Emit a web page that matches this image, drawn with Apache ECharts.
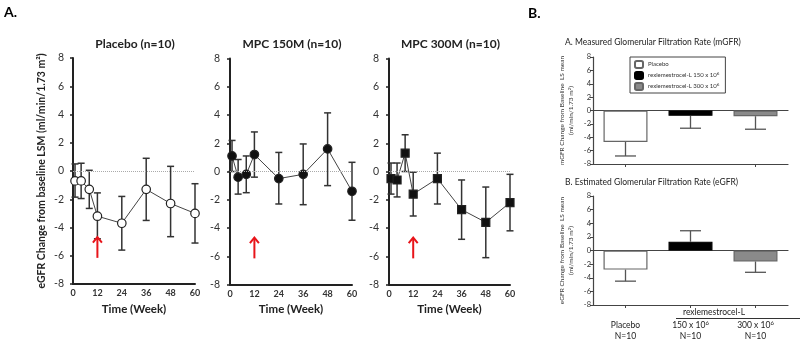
<!DOCTYPE html>
<html>
<head>
<meta charset="utf-8">
<script src="https://cdn.jsdelivr.net/npm/echarts@6/dist/echarts.min.js"></script>
<style>
  html, body { margin: 0; padding: 0; background: #fff; }
  #chart { width: 800px; height: 344px; }
</style>
</head>
<body>
<div id="chart"></div>
<script>
// ---- Panel A: eGFR change over time, three treatment groups ----
const weeks = [1, 4, 8, 12, 24, 36, 48, 60];
const weekTicks = [0, 12, 24, 36, 48, 60];

const placeboMean  = [-0.7, -0.7, -1.3, -3.2, -3.7, -1.3, -2.3, -3.0];
const placeboUpper = [0.5, 0.55, 0.05, -1.55, -1.8, 0.9, 0.33, -0.9];
const placeboLower = [-1.85, -1.95, -2.65, -4.8, -5.6, -3.5, -4.65, -5.1];

const mpc150Mean  = [1.1, -0.4, -0.2, 1.2, -0.5, -0.2, 1.6, -1.4];
const mpc150Upper = [2.2, 0.85, 1.1, 2.8, 1.35, 1.95, 4.15, 0.65];
const mpc150Lower = [0.0, -1.6, -1.5, -0.4, -2.3, -2.35, -1.0, -3.45];

const mpc300Mean  = [-0.5, -0.6, 1.3, -1.6, -0.5, -2.7, -3.6, -2.2];
const mpc300Upper = [0.6, 0.6, 2.6, -0.05, 1.3, -0.6, -1.1, -0.2];
const mpc300Lower = [-1.6, -1.8, 0.0, -3.15, -2.3, -4.8, -6.1, -4.2];

// dosing marker: week, arrow base, arrow tip
const doseWeek = 12;
const arrowBase = -6.15;
const arrowTip = -4.65;

// ---- Panel B: LS mean change from baseline at end of study ----
const groups = ['Placebo', 'rexlemestrocel-L 150 x 10^6', 'rexlemestrocel-L 300 x 10^6'];
const groupLabels = ['Placebo', '150 x 10^6', '300 x 10^6'];
const groupN = ['N=10', 'N=10', 'N=10'];
const mgfrMean = [-4.7, -0.8, -0.85];
const mgfrErrEnd = [-6.8, -2.65, -2.8];
const egfrMean = [-2.8, 1.3, -1.6];
const egfrErrEnd = [-4.5, 2.9, -3.2];

const FONT = 'Lato, "Open Sans", sans-serif';
const DARK = '#222';

// turn "10^6" into rich-text with a raised exponent
function supText(s, base) {
  return s.replace(/\^(\d+)/, '{' + 'sup|$1}').replace(/^([^{]+)/, '{' + base + '|$1}');
}

const chart = echarts.init(document.getElementById('chart'), null, { renderer: 'canvas' });

const lineGrids = [
  { left: 73, top: 58, width: 122, height: 226 },
  { left: 230, top: 58.5, width: 122, height: 226 },
  { left: 389, top: 58.5, width: 121, height: 226 }
];
const barGrids = [
  { left: 593, top: 57, width: 195, height: 107 },
  { left: 593, top: 196, width: 195, height: 109 }
];

const lineGroups = [
  { title: 'Placebo (n=10)', mean: placeboMean, up: placeboUpper, lo: placeboLower, symbol: 'circle', fill: '#fff', yOffset: 6 },
  { title: 'MPC 150M (n=10)', mean: mpc150Mean, up: mpc150Upper, lo: mpc150Lower, symbol: 'circle', fill: '#111', yOffset: 7 },
  { title: 'MPC 300M (n=10)', mean: mpc300Mean, up: mpc300Upper, lo: mpc300Lower, symbol: 'rect', fill: '#111', yOffset: 7 }
];

const grid = [];
const xAxis = [];
const yAxis = [];
const series = [];
const title = [];

// --- line panels ---
lineGroups.forEach((g, i) => {
  grid.push(lineGrids[i]);
  xAxis.push({
    type: 'value', gridIndex: i, min: 0, max: 60, interval: 12,
    axisLine: { show: true, onZero: false, lineStyle: { color: DARK, width: 2 } },
    axisTick: { show: false },
    splitLine: { show: false },
    axisLabel: { fontFamily: FONT, fontSize: 9, fontWeight: 'bold', color: '#333', margin: 5,
                 customValues: weekTicks },
    name: 'Time (Week)', nameLocation: 'middle', nameGap: 15,
    nameTextStyle: { fontFamily: FONT, fontSize: 11.5, fontWeight: 'bold', color: DARK }
  });
  const ya = {
    type: 'value', gridIndex: i, min: -8, max: 8, interval: 2, offset: g.yOffset,
    axisLine: { show: true, lineStyle: { color: DARK, width: 2 } },
    axisTick: { show: true, length: 3, lineStyle: { color: DARK, width: 1.5 } },
    splitLine: { show: false },
    axisLabel: { fontFamily: FONT, fontSize: 10.5, color: '#333', margin: 3 }
  };
  if (i === 0) {
    ya.name = 'eGFR Change from baseline LSM (ml/min/1.73 m\u00B2)';
    ya.nameLocation = 'middle';
    ya.nameGap = 20;
    ya.nameTextStyle = { fontFamily: FONT, fontSize: 10.5, fontWeight: 'bold', color: DARK };
  }
  yAxis.push(ya);

  title.push({
    text: g.title, left: lineGrids[i].left + lineGrids[i].width / 2 - 4, top: 33, textAlign: 'center',
    textStyle: { fontFamily: FONT, fontSize: 12, fontWeight: 'bold', color: DARK }
  });

  // error bars
  series.push({
    type: 'custom', xAxisIndex: i, yAxisIndex: i, z: 2,
    data: weeks.map((w, k) => [w, g.lo[k], g.up[k]]),
    encode: { x: 0, y: [1, 2] },
    renderItem: (params, api) => {
      const x = api.value(0);
      const top = api.coord([x, api.value(2)]);
      const bot = api.coord([x, api.value(1)]);
      const hw = 3.5;
      const st = { stroke: '#333', lineWidth: 1.5 };
      return {
        type: 'group', children: [
          { type: 'line', shape: { x1: top[0], y1: top[1], x2: bot[0], y2: bot[1] }, style: st },
          { type: 'line', shape: { x1: top[0] - hw, y1: top[1], x2: top[0] + hw, y2: top[1] }, style: st },
          { type: 'line', shape: { x1: bot[0] - hw, y1: bot[1], x2: bot[0] + hw, y2: bot[1] }, style: st }
        ]
      };
    }
  });

  // means
  series.push({
    type: 'line', xAxisIndex: i, yAxisIndex: i, z: 3,
    data: weeks.map((w, k) => [w, g.mean[k]]),
    symbol: g.symbol, symbolSize: g.symbol === 'rect' ? 8 : 8.5,
    lineStyle: { color: '#444', width: 1 },
    itemStyle: { color: g.fill, borderColor: '#222', borderWidth: 1.2 },
    animation: false,
    markLine: {
      silent: true, symbol: 'none', label: { show: false }, animation: false,
      lineStyle: { type: 'dotted', color: '#aaa', width: 1 },
      data: [{ yAxis: 0 }]
    }
  });

  // dosing arrow
  series.push({
    type: 'custom', xAxisIndex: i, yAxisIndex: i, z: 4,
    data: [[doseWeek, arrowBase, arrowTip]],
    encode: { x: 0, y: [1, 2] },
    renderItem: (params, api) => {
      const x = api.value(0);
      const b = api.coord([x, api.value(1)]);
      const t = api.coord([x, api.value(2)]);
      const st = { stroke: '#e8141a', lineWidth: 2, fill: null };
      return {
        type: 'group', children: [
          { type: 'line', shape: { x1: b[0], y1: b[1], x2: t[0], y2: t[1] + 1 }, style: st },
          { type: 'polyline', shape: { points: [[t[0] - 4.5, t[1] + 6], [t[0], t[1] + 0.5], [t[0] + 4.5, t[1] + 6]] }, style: st }
        ]
      };
    }
  });
});

// --- bar panels ---
const barPanels = [
  { title: 'A. Measured Glomerular Filtration Rate (mGFR)', mean: mgfrMean, end: mgfrErrEnd,
    yName: '{t|mGFR Change from Baseline  LS mean}\n{t|(ml/min/1.73 m}{s|2}{t|)}', showLabels: false },
  { title: 'B. Estimated Glomerular Filtration Rate (eGFR)', mean: egfrMean, end: egfrErrEnd,
    yName: '{t|eGFR Change from Baseline  LS mean}\n{t|(ml/min/1.73 m}{s|2}{t|)}', showLabels: true }
];
const barFill = ['#ffffff', '#000000', '#8a8a8a'];
const barBorder = ['#666', '#000', '#666'];

barPanels.forEach((p, j) => {
  const gi = grid.length;
  grid.push(barGrids[j]);
  const xZero = xAxis.length;
  // zero line
  xAxis.push({
    type: 'category', gridIndex: gi, data: groupLabels,
    axisLine: { show: true, onZero: true, lineStyle: { color: '#444', width: 1.2 } },
    axisTick: { show: false }, axisLabel: { show: false }, splitLine: { show: false }
  });
  // bottom axis with category ticks
  xAxis.push({
    type: 'category', gridIndex: gi, data: groupLabels, position: 'bottom',
    axisLine: { show: true, onZero: false, lineStyle: { color: '#444', width: 1.2 } },
    axisTick: { show: true, alignWithLabel: true, length: 3, lineStyle: { color: '#444' } },
    splitLine: { show: false },
    axisLabel: p.showLabels ? {
      show: true, margin: 15, interval: 0,
      formatter: (v, idx) => supText(v, 'n') + '\n{n|' + groupN[idx] + '}',
      rich: {
        n: { fontFamily: FONT, fontSize: 8.5, color: DARK, lineHeight: 11 },
        sup: { fontFamily: FONT, fontSize: 6, color: DARK, lineHeight: 11, padding: [0, 0, 5, 0] }
      }
    } : { show: false }
  });
  const yi = yAxis.length;
  yAxis.push({
    type: 'value', gridIndex: gi, min: -8, max: 8, interval: 2,
    axisLine: { show: true, lineStyle: { color: '#444', width: 1.2 } },
    axisTick: { show: true, length: 3, lineStyle: { color: '#444' } },
    splitLine: { show: false },
    axisLabel: { fontFamily: FONT, fontSize: 7.5, color: '#333', margin: 2 },
    name: p.yName, nameLocation: 'middle', nameGap: 18,
    nameTextStyle: {
      rich: {
        t: { fontFamily: FONT, fontSize: 6.5, color: '#333', lineHeight: 8.5 },
        s: { fontFamily: FONT, fontSize: 4.5, color: '#333', lineHeight: 8.5, padding: [0, 0, 3, 0] }
      }
    }
  });

  title.push({
    text: p.title, left: 560, top: j === 0 ? 33 : 173,
    textStyle: { fontFamily: FONT, fontSize: 8.5, fontWeight: 'normal', color: DARK }
  });

  groups.forEach((name, k) => {
    series.push({
      name: name, type: 'bar', xAxisIndex: xZero, yAxisIndex: yi,
      barWidth: 44, barGap: '-100%', z: 2, animation: false,
      data: groupLabels.map((c, m) => (m === k ? p.mean[m] : '-')),
      itemStyle: { color: barFill[k], borderColor: barBorder[k], borderWidth: 1.2 }
    });
  });

  series.push({
    type: 'custom', xAxisIndex: xZero, yAxisIndex: yi, z: 1,
    data: p.mean.map((v, m) => [m, v, p.end[m]]),
    encode: { x: 0, y: [1, 2] },
    renderItem: (params, api) => {
      const c = api.value(0);
      const a = api.coord([c, api.value(1)]);
      const b = api.coord([c, api.value(2)]);
      const hw = 10.5;
      const st = { stroke: '#555', lineWidth: 1.3 };
      return {
        type: 'group', children: [
          { type: 'line', shape: { x1: a[0], y1: a[1], x2: b[0], y2: b[1] }, style: st },
          { type: 'line', shape: { x1: b[0] - hw, y1: b[1], x2: b[0] + hw, y2: b[1] }, style: st }
        ]
      };
    }
  });
});

title.push({ text: 'A.', left: -1, top: 0, textStyle: { fontFamily: FONT, fontSize: 14, fontWeight: 'bold', color: '#000' } });
title.push({ text: 'B.', left: 523, top: 1, textStyle: { fontFamily: FONT, fontSize: 14, fontWeight: 'bold', color: '#000' } });

chart.setOption({
  animation: false,
  backgroundColor: '#fff',
  title: title,
  grid: grid,
  xAxis: xAxis,
  yAxis: yAxis,
  series: series,
  legend: {
    data: groups, orient: 'vertical', left: 630, top: 57,
    itemWidth: 8, itemHeight: 7, itemGap: 2, padding: [3, 6, 2, 4],
    borderColor: '#444', borderWidth: 1, backgroundColor: '#fff',
    formatter: name => supText(name, 'n'),
    textStyle: {
      rich: {
        n: { fontFamily: FONT, fontSize: 6, color: '#333', lineHeight: 8 },
        sup: { fontFamily: FONT, fontSize: 4.5, color: '#333', lineHeight: 8, padding: [0, 0, 3, 0] }
      }
    },
    selectedMode: false
  },
  graphic: [
    { type: 'text', left: 683, top: 308,
      style: { text: 'rexlemestrocel-L', font: '8.5px ' + FONT, fill: DARK } },
    { type: 'line', shape: { x1: 676, y1: 318.5, x2: 800, y2: 318.5 },
      style: { stroke: '#333', lineWidth: 1 } }
  ]
});
</script>
</body>
</html>
